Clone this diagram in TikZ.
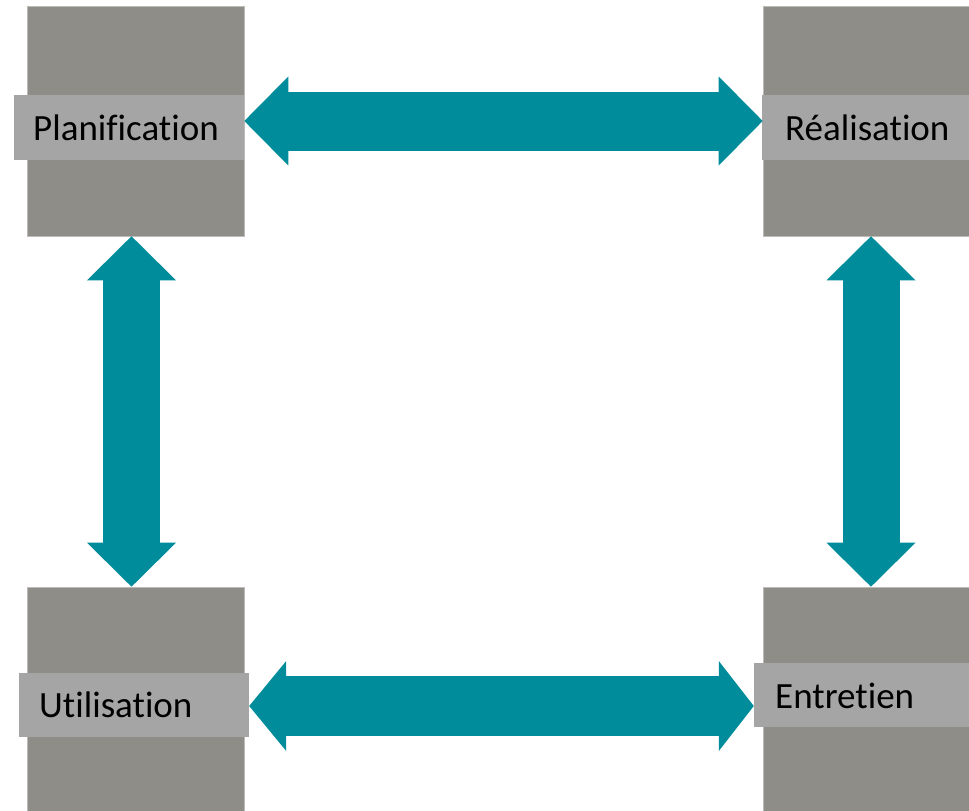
\documentclass[tikz,border=0pt]{standalone}
\usepackage{fontspec}
\setmainfont{Carlito}[Ligatures={NoCommon,NoDiscretionary,NoRare}, RawFeature=-liga]
\usetikzlibrary{arrows.meta,calc}
\definecolor{boxgray}{HTML}{8F8D88}
\definecolor{bandgray}{HTML}{A5A5A5}
\definecolor{teal2}{HTML}{008C9B}
\tikzset{
  stage/.style={rectangle, fill=boxgray, draw=boxgray!60!white, line width=0.6pt, inner sep=0pt, minimum width=217pt, minimum height=230pt},
  band/.style={rectangle, fill=bandgray, inner sep=0pt},
  lbl/.style={anchor=base west, inner sep=0pt, font=\fontsize{37}{44}\selectfont, text=black},
  biarrow/.style={draw=teal2, line width=59pt,
    {Triangle[length=44pt,width=89pt,line width=0pt]}-{Triangle[length=44pt,width=89pt,line width=0pt]}},
  shortbiarrow/.style={draw=teal2, line width=60pt,
    {Triangle[length=37pt,width=90pt,line width=0pt]}-{Triangle[length=35pt,width=90pt,line width=0pt]}},
}
\begin{document}
\begin{tikzpicture}[x=1pt,y=-1pt]
\useasboundingbox (0,0) rectangle (969,811);
\clip (0,0) rectangle (969,811);
% stage boxes
\node[stage] (planbox) at (135.5,121) {};
\node[stage] (realbox) at (871.5,121) {};
\node[stage] (utilbox) at (135.5,702) {};
\node[stage] (entrbox) at (871.5,702) {};
% label bands
\node[band, minimum width=230pt, minimum height=65pt] (planband) at (129,127.5) {};
\node[band, minimum width=218pt, minimum height=65pt] (realband) at (871,127.5) {};
\node[band, minimum width=230pt, minimum height=64pt] (utilband) at (134,705) {};
\node[band, minimum width=226pt, minimum height=64pt] (entrband) at (867,695) {};
% labels
\node[lbl] (planlbl) at (33,140) {Planification};
\node[lbl] (reallbl) at (785,140) {Réalisation};
\node[lbl] (utillbl) at (39,717) {Utilisation};
\node[lbl] (entrlbl) at (775,708) {Entretien};
% connectors
\draw[biarrow] (planbox.east) -- (realbox.west);
\draw[shortbiarrow] ([yshift=-1pt]utilband.east) -- ([yshift=-1pt]utilband.east -| entrband.west);
\draw[biarrow, line width=57pt] ([xshift=-4pt]planbox.south) -- ([xshift=-4pt]utilbox.north);
\draw[biarrow, line width=57pt] ([xshift=-0.5pt]realbox.south) -- ([xshift=-0.5pt]entrbox.north);
\end{tikzpicture}
\end{document}
